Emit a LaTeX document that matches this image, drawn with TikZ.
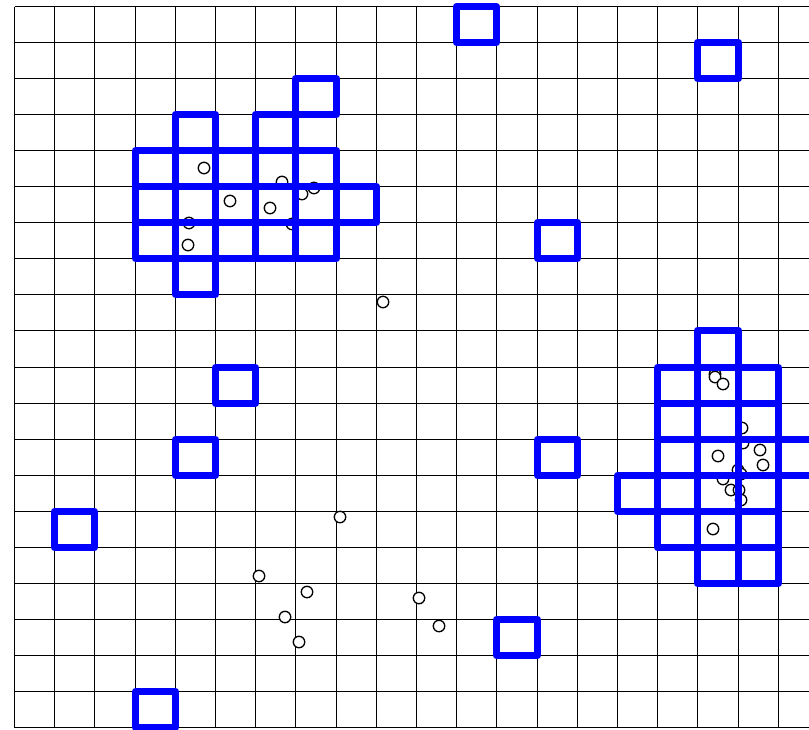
\documentclass[tikz,border=0pt]{standalone}
\usepackage{xcolor}
\usepackage{tikz}
\definecolor{cellblue}{HTML}{0000FF}
\definecolor{gridblack}{HTML}{000000}

\newcommand{\colw}{40.2}
\newcommand{\rowh}{36.05}

\begin{document}
\begin{tikzpicture}[
  x=0.75pt,
  y=-0.75pt,
  gridline/.style={
    draw=gridblack,
    line width=1.35pt
  },
  hitcell/.style={
    draw=cellblue,
    line width=5.2pt,
    line join=round
  },
  sample/.style={
    draw=gridblack,
    fill=white,
    line width=1pt
  }
]

\useasboundingbox (0,0) rectangle (809,729);
\clip (0,0) rectangle (809,729);

% 1. Grid
\foreach \i in {0,...,20} {
  \pgfmathsetmacro{\gx}{round(14+\colw*\i)+0.5}
  \pgfmathsetmacro{\gy}{round(6+\rowh*\i)+0.5}
  \draw[gridline] (\gx,6.5) -- (\gx,727.5);
  \draw[gridline] (14.5,\gy) -- (818.5,\gy);
}

% 2. Sample points
\foreach \px/\py in {204/168,282/182,302/194,314/188,230/201,270/208,189/223,292/224,188/245,383/302,
  715/374,715/377,723/384,742/428,743/443,760/450,763/465,718/456,738/470,741/474,723/479,731/490,739/490,741/500,713/529,
  340/517,259/576,307/592,285/617,299/642,419/598,439/626}
  \draw[sample] (\px,\py) circle[radius=4.3pt];

% 3. Occupied cells (column/row)
\foreach \c/\r in {11/0,17/1,7/2,4/3,6/3,
  3/4,4/4,5/4,6/4,7/4,
  3/5,4/5,5/5,6/5,7/5,8/5,
  3/6,4/6,5/6,6/6,7/6,13/6,
  4/7,17/9,
  5/10,16/10,17/10,18/10,
  16/11,17/11,18/11,
  4/12,13/12,16/12,17/12,18/12,19/12,
  15/13,16/13,17/13,18/13,
  1/14,16/14,17/14,18/14,
  17/15,18/15,
  12/17,3/19}
  {
  \pgfmathsetmacro{\ax}{round(14+\colw*\c)+0.5}
  \pgfmathsetmacro{\ay}{round(6+\rowh*\r)+0.5}
  \pgfmathsetmacro{\bx}{round(14+\colw*(\c+1))+0.5}
  \pgfmathsetmacro{\by}{round(6+\rowh*(\r+1))+0.5}
  \draw[hitcell] (\ax,\ay) rectangle (\bx,\by);
  }

\end{tikzpicture}
\end{document}
